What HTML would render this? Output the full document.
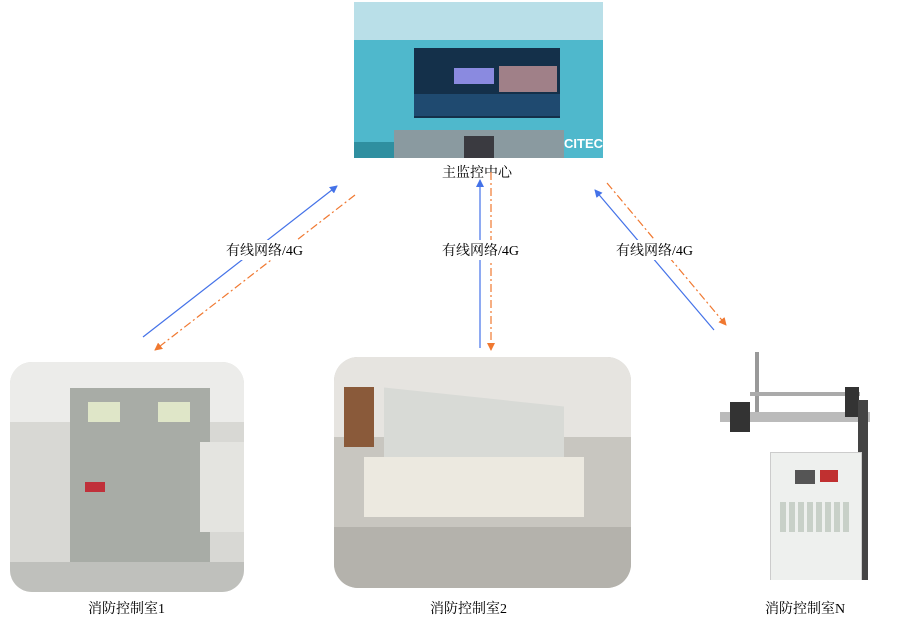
<!DOCTYPE html>
<html><head><meta charset="utf-8"><style>
body{margin:0;width:899px;height:625px;background:#fff;position:relative;overflow:hidden;font-family:"Liberation Serif","Noto Serif CJK SC",serif;font-size:14px;color:#000}
.a{position:absolute}
.lbl{position:absolute;white-space:nowrap}
</style></head><body>
<!-- top image -->
<div class="a" style="left:354px;top:2px;width:249px;height:156px;background:#4fb8cc;overflow:hidden">
 <div class="a" style="left:0;top:0;width:249px;height:38px;background:#b9dfe8"></div>
 <div class="a" style="left:60px;top:46px;width:146px;height:70px;background:#14304a"></div>
 <div class="a" style="left:100px;top:66px;width:40px;height:16px;background:#8a8ae0"></div>
 <div class="a" style="left:145px;top:64px;width:58px;height:26px;background:#a08088"></div>
 <div class="a" style="left:60px;top:92px;width:146px;height:22px;background:#1f4a70"></div>
 <div class="a" style="left:40px;top:128px;width:170px;height:28px;background:#8a9aa0"></div>
 <div class="a" style="left:110px;top:134px;width:30px;height:22px;background:#3a3a40"></div>
 <div class="a" style="left:0;top:140px;width:40px;height:16px;background:#2f8fa0"></div>
 <div class="a" style="left:210px;top:134px;color:#fff;font:bold 13px 'Liberation Sans',sans-serif">CITEC</div>
</div>
<div class="lbl" style="left:442px;top:162px">主监控中心</div>
<!-- left photo -->
<div class="a" style="left:10px;top:362px;width:234px;height:230px;border-radius:22px;background:#d8d8d4;overflow:hidden">
 <div class="a" style="left:0;top:0;width:234px;height:60px;background:#ececea"></div>
 <div class="a" style="left:60px;top:26px;width:140px;height:204px;background:#a8aca6"></div>
 <div class="a" style="left:78px;top:40px;width:32px;height:20px;background:#dfe6c8"></div>
 <div class="a" style="left:148px;top:40px;width:32px;height:20px;background:#dfe6c8"></div>
 <div class="a" style="left:75px;top:120px;width:20px;height:10px;background:#c0303a"></div>
 <div class="a" style="left:190px;top:80px;width:44px;height:90px;background:#e4e4e0"></div>
 <div class="a" style="left:0;top:200px;width:234px;height:30px;background:#bfc0bc"></div>
</div>
<div class="lbl" style="left:88px;top:598px">消防控制室1</div>
<!-- middle photo -->
<div class="a" style="left:334px;top:357px;width:297px;height:231px;border-radius:24px;background:#c8c6c0;overflow:hidden">
 <div class="a" style="left:0;top:0;width:297px;height:80px;background:#e6e4e0"></div>
 <div class="a" style="left:50px;top:40px;width:180px;height:80px;background:#d8dad6;transform:skewY(6deg)"></div>
 <div class="a" style="left:30px;top:100px;width:220px;height:60px;background:#ece9e0"></div>
 <div class="a" style="left:0;top:170px;width:297px;height:61px;background:#b4b2ac"></div>
 <div class="a" style="left:10px;top:30px;width:30px;height:60px;background:#8a5a3a"></div>
</div>
<div class="lbl" style="left:430px;top:598px">消防控制室2</div>
<!-- right photo -->
<div class="a" style="left:720px;top:352px;width:157px;height:228px;overflow:hidden">
 <div class="a" style="left:35px;top:0;width:4px;height:60px;background:#999"></div>
 <div class="a" style="left:30px;top:40px;width:110px;height:4px;background:#aaa"></div>
 <div class="a" style="left:0;top:60px;width:150px;height:10px;background:#bbb"></div>
 <div class="a" style="left:10px;top:50px;width:20px;height:30px;background:#333"></div>
 <div class="a" style="left:125px;top:35px;width:14px;height:30px;background:#333"></div>
 <div class="a" style="left:138px;top:48px;width:10px;height:180px;background:#444"></div>
 <div class="a" style="left:50px;top:100px;width:90px;height:128px;background:#eef0ee;border:1px solid #ccc"></div>
 <div class="a" style="left:75px;top:118px;width:20px;height:14px;background:#555"></div>
 <div class="a" style="left:100px;top:118px;width:18px;height:12px;background:#c03030"></div>
 <div class="a" style="left:60px;top:150px;width:70px;height:30px;background:repeating-linear-gradient(90deg,#c8d0c8 0 6px,#eef0ee 6px 9px)"></div>
</div>
<div class="lbl" style="left:765px;top:598px">消防控制室N</div>
<!-- connectors -->
<svg class="a" style="left:0;top:0" width="899" height="625">
 <defs>
  <marker id="b" markerWidth="8" markerHeight="8" refX="7" refY="4" orient="auto" markerUnits="userSpaceOnUse"><path d="M0,0L8,4L0,8z" fill="#4472e8"/></marker>
  <marker id="o" markerWidth="8" markerHeight="8" refX="7" refY="4" orient="auto" markerUnits="userSpaceOnUse"><path d="M0,0L8,4L0,8z" fill="#f07830"/></marker>
 </defs>
 <g stroke-width="1.2" fill="none">
  <line x1="143" y1="337" x2="337" y2="186" stroke="#4472e8" marker-end="url(#b)"/>
  <line x1="355" y1="195" x2="155" y2="350" stroke="#f07830" stroke-dasharray="8,3,2,3" marker-end="url(#o)"/>
  <line x1="480" y1="348" x2="480" y2="180" stroke="#4472e8" marker-end="url(#b)"/>
  <line x1="491" y1="172" x2="491" y2="350" stroke="#f07830" stroke-dasharray="8,3,2,3" marker-end="url(#o)"/>
  <line x1="714" y1="330" x2="595" y2="190" stroke="#4472e8" marker-end="url(#b)"/>
  <line x1="607" y1="183" x2="726" y2="325" stroke="#f07830" stroke-dasharray="8,3,2,3" marker-end="url(#o)"/>
 </g>
</svg>
<div class="lbl" style="left:226px;top:240px;background:#fff">有线网络/4G</div>
<div class="lbl" style="left:442px;top:240px;background:#fff">有线网络/4G</div>
<div class="lbl" style="left:616px;top:240px;background:#fff">有线网络/4G</div>
</body></html>
